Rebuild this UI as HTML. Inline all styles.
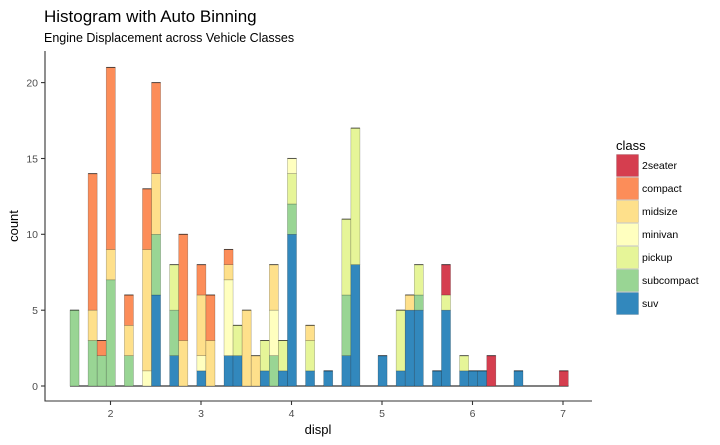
<!DOCTYPE html>
<html><head><meta charset="utf-8"><style>
html,body{margin:0;padding:0;background:#fff;}
svg{display:block;font-family:"Liberation Sans",sans-serif;}
</style></head><body>
<svg id="s" width="720" height="445" viewBox="0 0 720 445" xmlns="http://www.w3.org/2000/svg">
<text x="44" y="22" font-size="17" fill="#000">Histogram with Auto Binning</text>
<text x="44" y="42" font-size="12.5" fill="#000">Engine Displacement across Vehicle Classes</text>
<g id="bars"></g>
<line x1="70" y1="386" x2="568.5" y2="386" stroke="#000" stroke-width="1"/>
<g id="bars2"></g>
<line x1="45" y1="51" x2="45" y2="401.5" stroke="#333" stroke-width="1.1"/>
<line x1="44.5" y1="401" x2="592" y2="401" stroke="#333" stroke-width="1.1"/>
<g stroke="#333" stroke-width="1.1">
<line x1="41" y1="386" x2="45" y2="386"/><line x1="41" y1="310.2" x2="45" y2="310.2"/>
<line x1="41" y1="234.3" x2="45" y2="234.3"/><line x1="41" y1="158.5" x2="45" y2="158.5"/>
<line x1="41" y1="82.6" x2="45" y2="82.6"/>
<line x1="110.5" y1="401" x2="110.5" y2="405"/><line x1="201" y1="401" x2="201" y2="405"/>
<line x1="291.5" y1="401" x2="291.5" y2="405"/><line x1="382" y1="401" x2="382" y2="405"/>
<line x1="472.5" y1="401" x2="472.5" y2="405"/><line x1="563" y1="401" x2="563" y2="405"/>
</g>
<g font-size="10.5" fill="#4d4d4d" text-anchor="end">
<text x="38" y="390">0</text><text x="38" y="314">5</text><text x="38" y="238">10</text>
<text x="38" y="162.5">15</text><text x="38" y="86.5">20</text>
</g>
<g font-size="10.5" fill="#4d4d4d" text-anchor="middle">
<text x="110.5" y="417">2</text><text x="201" y="417">3</text><text x="291.5" y="417">4</text>
<text x="382" y="417">5</text><text x="472.5" y="417">6</text><text x="563" y="417">7</text>
</g>
<text x="318" y="434" font-size="13" text-anchor="middle">displ</text>
<text transform="translate(18,226) rotate(-90)" font-size="13" text-anchor="middle">count</text>
<text x="616" y="150" font-size="13">class</text>
<g id="leg" font-size="10.5"></g>
</svg>
<script>
var C={suv:"#3288BD",sub:"#99D594",pick:"#E6F598",mini:"#FFFFBF",mid:"#FEE08B",comp:"#FC8D59",two:"#D53E4F"};
var D=[
[0,[["sub",5]]],
[2,[["sub",3],["mid",2],["comp",9]]],
[3,[["sub",2],["comp",1]]],
[4,[["sub",7],["mid",2],["comp",12]]],
[6,[["sub",2],["mid",2],["comp",2]]],
[8,[["mini",1],["mid",8],["comp",4]]],
[9,[["suv",6],["sub",4],["mid",4],["comp",6]]],
[11,[["suv",2],["sub",3],["pick",3]]],
[12,[["mid",3],["comp",7]]],
[14,[["suv",1],["mini",1],["mid",4],["comp",2]]],
[15,[["mid",3],["comp",3]]],
[17,[["suv",2],["mini",5],["mid",1],["comp",1]]],
[18,[["suv",2],["pick",2]]],
[19,[["mid",5]]],
[20,[["mid",2]]],
[21,[["suv",1],["pick",2]]],
[22,[["sub",2],["mini",3],["mid",3]]],
[23,[["suv",1],["pick",2]]],
[24,[["suv",10],["sub",2],["pick",2],["mini",1]]],
[26,[["suv",1],["pick",2],["mid",1]]],
[28,[["suv",1]]],
[30,[["suv",2],["sub",4],["pick",5]]],
[31,[["suv",8],["pick",9]]],
[34,[["suv",2]]],
[36,[["suv",1],["pick",4]]],
[37,[["suv",5],["mid",1]]],
[38,[["suv",5],["sub",1],["pick",2]]],
[40,[["suv",1]]],
[41,[["suv",5],["pick",1],["two",2]]],
[43,[["suv",1],["pick",1]]],
[44,[["suv",1]]],
[45,[["suv",1]]],
[46,[["two",2]]],
[49,[["suv",1]]],
[54,[["two",1]]]];
var ns="http://www.w3.org/2000/svg",g=document.getElementById("bars2"),W=9.06,U=15.17;
function R(p,x,y,w,h,f,s){var r=document.createElementNS(ns,"rect");r.setAttribute("x",x);r.setAttribute("y",y);r.setAttribute("width",w);r.setAttribute("height",h);r.setAttribute("fill",f);r.setAttribute("stroke",s||"rgba(0,0,0,0.3)");r.setAttribute("stroke-width","0.6");p.appendChild(r);}
D.forEach(function(b){var x=70+b[0]*W,c=0;b[1].forEach(function(s){var y0=386-c*U;c+=s[1];var y1=386-c*U;R(g,x,y1,W,y0-y1,C[s[0]]);});
var l=document.createElementNS(ns,"line");l.setAttribute("x1",x);l.setAttribute("x2",x+W);l.setAttribute("y1",386-c*U);l.setAttribute("y2",386-c*U);l.setAttribute("stroke","rgba(0,0,0,0.6)");l.setAttribute("stroke-width","1");g.appendChild(l);});
var L=[["two","2seater"],["comp","compact"],["mid","midsize"],["mini","minivan"],["pick","pickup"],["sub","subcompact"],["suv","suv"]],lg=document.getElementById("leg");
L.forEach(function(e,i){var y=154+i*23;R(lg,616.5,y+0.5,22,22,C[e[0]],"rgba(0,0,0,0.2)");var t=document.createElementNS(ns,"text");t.setAttribute("x",642);t.setAttribute("y",y+15);t.textContent=e[1];lg.appendChild(t);});
</script>
</body></html>
